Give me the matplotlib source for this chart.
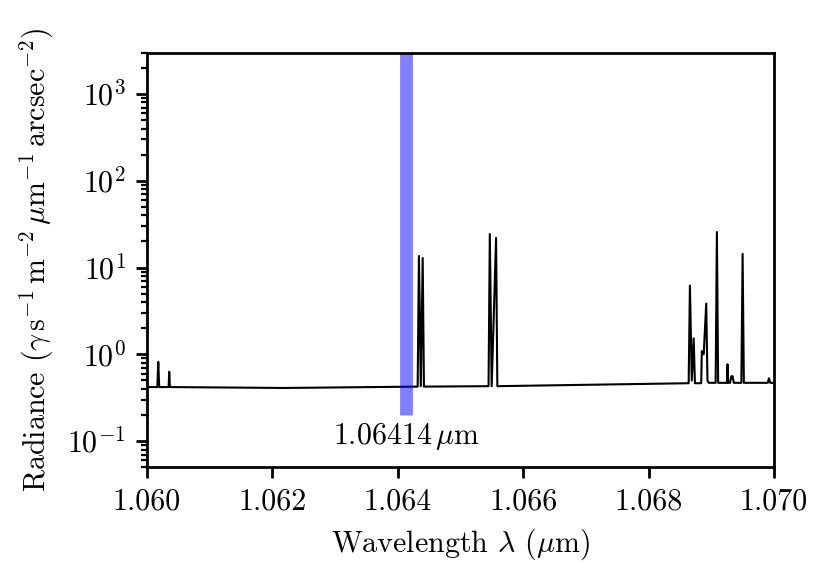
import matplotlib
matplotlib.use("Agg")
import matplotlib.pyplot as plt
from matplotlib.ticker import FormatStrFormatter

plt.rcParams['font.family'] = 'serif'
plt.rcParams['font.serif'] = ['cmr10', 'DejaVu Serif']
plt.rcParams['mathtext.fontset'] = 'cm'
plt.rcParams['axes.unicode_minus'] = False
plt.rcParams['axes.formatter.use_mathtext'] = True
plt.rcParams['font.size'] = 10.8
plt.rcParams['axes.linewidth'] = 1.0
plt.rcParams['xtick.major.size'] = 4
plt.rcParams['ytick.major.size'] = 4
plt.rcParams['xtick.major.width'] = 1.0
plt.rcParams['ytick.major.width'] = 1.0
plt.rcParams['ytick.minor.width'] = 0.8
plt.rcParams['ytick.minor.size'] = 2.2

# spectrum (wavelength in um, radiance)
wavelength = [
    1.06000,
    1.06017, 1.060185, 1.06020,
    1.06035, 1.06036, 1.06037,
    1.06220,
    1.06432, 1.06434, 1.06437, 1.06440, 1.06442,
    1.06545, 1.06547, 1.06550, 1.06557, 1.06559,
    1.06864, 1.06866, 1.06869, 1.06872, 1.06874,
    1.06884, 1.06885, 1.06888, 1.06892, 1.06894, 1.06896,
    1.06907, 1.06909, 1.06911,
    1.06925, 1.06926, 1.06927,
    1.06930, 1.06932, 1.06934, 1.06936,
    1.06948, 1.06950, 1.06952,
    1.06990, 1.06992, 1.06994,
    1.07000,
]
radiance = [
    0.42,
    0.42, 0.82, 0.42,
    0.42, 0.63, 0.42,
    0.41,
    0.425, 13.6, 0.43, 12.9, 0.425,
    0.43, 24.4, 0.43, 22.0, 0.43,
    0.465, 6.2, 0.5, 1.53, 0.465,
    0.465, 1.09, 1.0, 3.85, 0.5, 0.47,
    0.47, 25.7, 0.47,
    0.47, 0.77, 0.47,
    0.47, 0.56, 0.56, 0.47,
    0.47, 14.4, 0.47,
    0.47, 0.53, 0.47,
    0.47,
]

marker_wl = 1.06414
marker_bottom = 0.2
xticks = [1.060, 1.062, 1.064, 1.066, 1.068, 1.070]

fig = plt.figure(figsize=(4.15, 2.895), dpi=200)
ax = fig.add_axes([0.1767, 0.193, 0.7558, 0.716])

ax.plot(wavelength, radiance, color='black', lw=0.75)
ax.vlines(marker_wl, marker_bottom, 3000, color='blue', alpha=0.5, lw=4.6)
ax.text(marker_wl, 0.112, r'$1.06414\,\mu\mathrm{m}$', ha='center', va='center')

ax.set_yscale('log')
ax.set_xlim(1.060, 1.070)
ax.set_ylim(0.05, 3000)
ax.set_xticks(xticks)
ax.xaxis.set_major_formatter(FormatStrFormatter('%.3f'))

ax.set_xlabel(r'Wavelength $\lambda$ ($\mu$m)')
ax.set_ylabel(r'Radiance ($\gamma\,\mathrm{s}^{-1}\,\mathrm{m}^{-2}\,\mu\mathrm{m}^{-1}\,\mathrm{arcsec}^{-2}$)')

fig.savefig('out.png', dpi=200)
